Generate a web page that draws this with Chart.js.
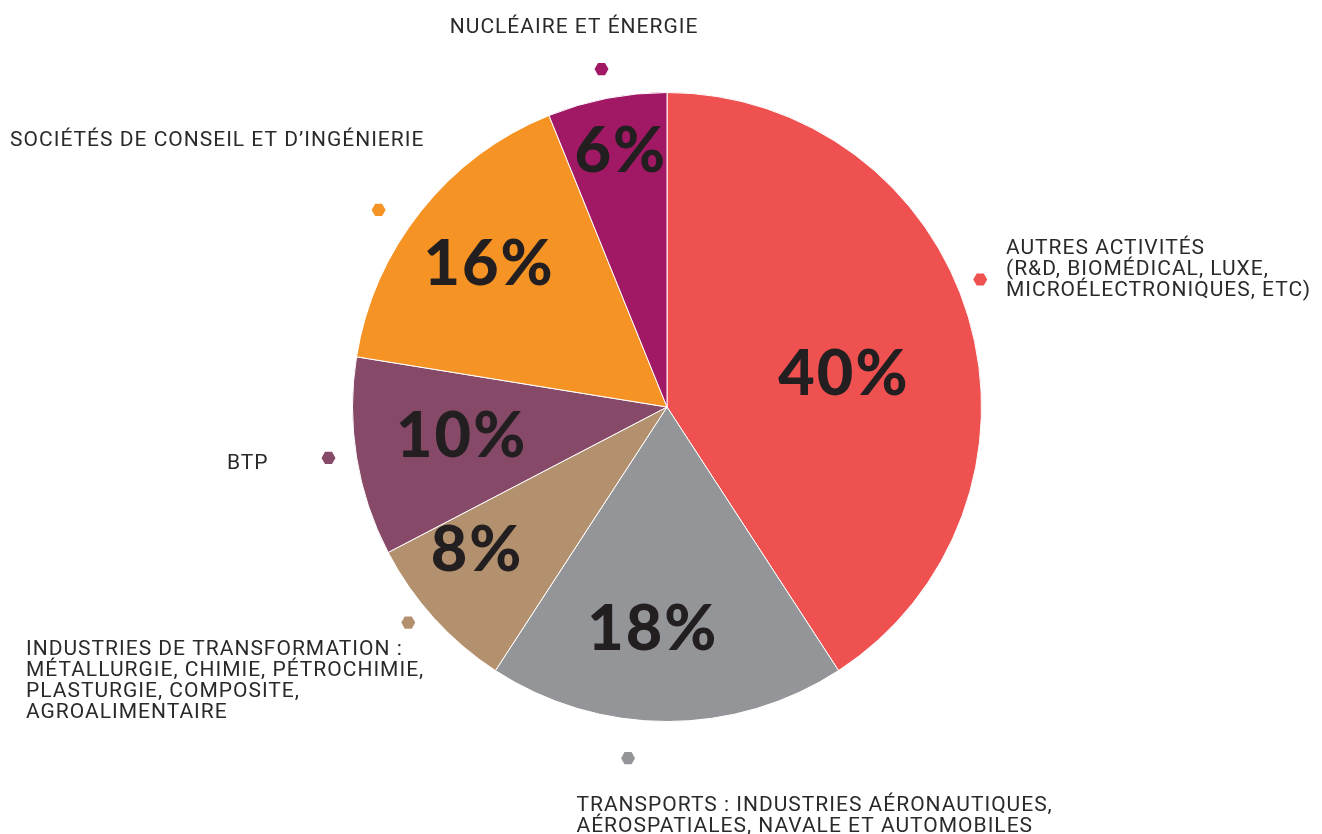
<!DOCTYPE html>
<html>
<head>
<meta charset="utf-8">
<script src="https://cdn.jsdelivr.net/npm/chart.js@4"></script>
<style>
  html, body { margin: 0; padding: 0; background: #ffffff; }
  #wrap { width: 1322px; height: 834px; position: relative; }
</style>
</head>
<body>
<div id="wrap"><canvas id="c"></canvas></div>
<script>
// ---- data ----
const categories = [
  "AUTRES ACTIVITÉS\n(R&D, BIOMÉDICAL, LUXE,\nMICROÉLECTRONIQUES, ETC)",
  "TRANSPORTS : INDUSTRIES AÉRONAUTIQUES,\nAÉROSPATIALES, NAVALE ET AUTOMOBILES",
  "INDUSTRIES DE TRANSFORMATION :\nMÉTALLURGIE, CHIMIE, PÉTROCHIMIE,\nPLASTURGIE, COMPOSITE,\nAGROALIMENTAIRE",
  "BTP",
  "SOCIÉTÉS DE CONSEIL ET D’INGÉNIERIE",
  "NUCLÉAIRE ET ÉNERGIE"
];
const shares = [40, 18, 8, 10, 16, 6];
const sliceColors = ["#EF5050", "#949599", "#B3916F", "#864A68", "#F59324", "#A11865"];

// ---- layout (styling only) ----
// percent label: angle offset (deg) from slice mid, radius as fraction of outer radius
const pctLayout = [
  { da: 5.39, rf: 0.570 },
  { da: 3.95, rf: 0.704 },
  { da: 5.59, rf: 0.757 },
  { da: 1.52, rf: 0.662 },
  { da: 0.33, rf: 0.731 },
  { da: 0.62, rf: 0.832 }
];
// marker: angle offset (deg) from slice mid, extra radius (px); text offset from marker
const markLayout = [
  { da: -5.62, dr: 23.7, tx: 25.7,   ty: -25.7 },
  { da: 6.33,  dr: 38.8, tx: -51.6,  ty: 52.4 },
  { da: 2.44,  dr: 22.3, tx: -382.3, ty: 32.3 },
  { da: 0.63,  dr: 27.8, tx: -101.6, ty: 10.6 },
  { da: -4.22, dr: 34.8, tx: -368.5, ty: -63.6 },
  { da: 0.05,  dr: 29.7, tx: -151.7, ty: -36.3 }
];

const labelPlugin = {
  id: 'outerLabels',
  afterDatasetsDraw(chart) {
    const ctx = chart.ctx;
    const meta = chart.getDatasetMeta(0);
    const vals = chart.data.datasets[0].data;
    meta.data.forEach((arc, i) => {
      const p = arc.getProps(['x', 'y', 'startAngle', 'endAngle', 'outerRadius'], true);
      const mid = (p.startAngle + p.endAngle) / 2;
      // percent labels
      const pl = pctLayout[i];
      const a1 = mid + pl.da * Math.PI / 180;
      const r1 = p.outerRadius * pl.rf;
      ctx.save();
      ctx.fillStyle = '#231F20';
      ctx.font = '900 63px Lato, "DejaVu Sans", sans-serif';
      ctx.letterSpacing = '2px';
      ctx.textAlign = 'center';
      ctx.textBaseline = 'middle';
      ctx.fillText(vals[i] + '%', p.x + r1 * Math.cos(a1) + 1, p.y + r1 * Math.sin(a1) + 2);
      ctx.restore();

      // hexagon marker
      const ml = markLayout[i];
      const a2 = mid + ml.da * Math.PI / 180;
      const r2 = p.outerRadius + ml.dr;
      const hx = p.x + r2 * Math.cos(a2);
      const hy = p.y + r2 * Math.sin(a2);
      ctx.save();
      ctx.fillStyle = sliceColors[i];
      ctx.beginPath();
      for (let k = 0; k < 6; k++) {
        const ang = k * Math.PI / 3;
        const px = hx + 7 * Math.cos(ang);
        const py = hy + 7 * Math.sin(ang);
        if (k === 0) ctx.moveTo(px, py); else ctx.lineTo(px, py);
      }
      ctx.closePath();
      ctx.fill();
      ctx.restore();

      // category text
      const lines = chart.data.labels[i].split('\n');
      ctx.save();
      ctx.fillStyle = '#2B2A29';
      ctx.font = '400 21px Roboto, "DejaVu Sans", sans-serif';
      ctx.letterSpacing = '1px';
      ctx.textAlign = 'left';
      ctx.textBaseline = 'alphabetic';
      lines.forEach((ln, j) => {
        ctx.fillText(ln, hx + ml.tx, hy + ml.ty + j * 21);
      });
      ctx.restore();
    });
  }
};

new Chart(document.getElementById('c'), {
  type: 'pie',
  data: {
    labels: categories,
    datasets: [{
      data: shares,
      backgroundColor: sliceColors,
      borderColor: '#ffffff',
      borderWidth: 1
    }]
  },
  options: {
    responsive: true,
    maintainAspectRatio: false,
    animation: false,
    layout: { padding: { top: 92, bottom: 112, left: 352, right: 340 } },
    plugins: {
      legend: { display: false },
      tooltip: { enabled: false }
    }
  },
  plugins: [labelPlugin]
});
</script>
</body>
</html>
